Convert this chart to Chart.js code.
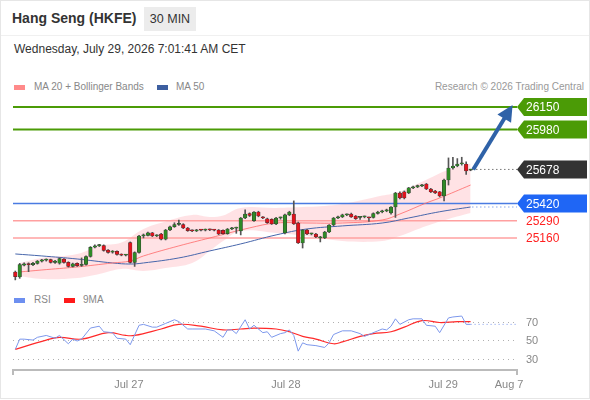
<!DOCTYPE html>
<html>
<head>
<meta charset="utf-8">
<script src="https://cdn.jsdelivr.net/npm/chart.js@4.4.1/dist/chart.umd.min.js"></script>
<style>
  body { margin: 0; background: #fff; font-family: 'Liberation Sans', Arial, sans-serif; }
  #wrap { position: relative; width: 588px; height: 397px; border: 1px solid #e6e6e6; overflow: hidden; }
  #head { position: absolute; left: 0; top: 0; width: 588px; height: 34px; border-bottom: 1px solid #f0f0f0; }
  #title { position: absolute; left: 11px; top: 9px; font-size: 14px; font-weight: bold; color: #333; }
  #tf { position: absolute; left: 143px; top: 6px; width: 52px; height: 24px; line-height: 24px; background: #ececec; text-align: center; font-size: 12.5px; color: #333; }
  #date { position: absolute; left: 13px; top: 41px; font-size: 12px; color: #333; }
  .lg { position: absolute; font-size: 10px; color: #888; }
  .sw { position: absolute; width: 11px; height: 5px; }
  canvas { position: absolute; left: 0; top: 0; }
</style>
</head>
<body>
<div id="wrap">
  <div id="head">
    <div id="title">Hang Seng (HKFE)</div>
    <div id="tf">30 MIN</div>
  </div>
  <div id="date">Wednesday, July 29, 2026 7:01:41 AM CET</div>

  <div class="sw" style="left:13px;top:84px;background:#ff8a8a"></div>
  <div class="lg" style="left:33px;top:80px">MA 20 + Bollinger Bands</div>
  <div class="sw" style="left:156px;top:84px;background:#3d5fa0"></div>
  <div class="lg" style="left:175px;top:80px">MA 50</div>
  <div class="lg" style="right:5px;top:80px;color:#999">Research © 2026 Trading Central</div>

  <div class="sw" style="left:13px;top:297px;background:#6d8ff0"></div>
  <div class="lg" style="left:33px;top:293px">RSI</div>
  <div class="sw" style="left:63px;top:297px;background:#ff1a1a"></div>
  <div class="lg" style="left:82px;top:293px">9MA</div>

  <canvas id="main" width="590" height="400"></canvas>
  <canvas id="rsi" width="590" height="400"></canvas>
</div>
<script>
// 30 min candles
const candleOpen = [
  24903, 24865, 24955, 24966, 24958, 24968, 24985, 24992, 24996, 24976,
  24970, 25000, 24975, 24945, 24968, 24952, 24960, 25020, 25090, 25100,
  25102, 25068, 25052, 25058, 25035, 25030, 25125, 24975, 25050, 25175,
  25180, 25198, 25175, 25190, 25150, 25220, 25245, 25262, 25262, 25235,
  25215, 25213, 25220, 25218, 25222, 25220, 25220, 25218, 25192, 25228,
  25234, 25213, 25311, 25345, 25290, 25356, 25318, 25304, 25300, 25266,
  25311, 25198, 25334, 25341, 25273, 25122, 25220, 25190, 25190, 25160,
  25160, 25205, 25258, 25311, 25319, 25334, 25341, 25326, 25315, 25319,
  25315, 25315, 25345, 25356, 25364, 25349, 25394, 25500, 25508, 25500,
  25538, 25546, 25553, 25568, 25530, 25515, 25508, 25477, 25598, 25689,
  25704, 25719, 25719, 25672
];
const candleHigh = [
  24910, 24968, 24972, 24972, 24975, 24990, 24998, 25002, 25000, 24990,
  25010, 25005, 24980, 24970, 24972, 25009, 25025, 25095, 25108, 25112,
  25108, 25072, 25065, 25062, 25040, 25036, 25130, 25055, 25180, 25190,
  25205, 25202, 25185, 25195, 25225, 25250, 25275, 25296, 25268, 25240,
  25222, 25225, 25226, 25228, 25228, 25225, 25224, 25222, 25232, 25240,
  25242, 25315, 25372, 25350, 25360, 25362, 25322, 25310, 25305, 25315,
  25318, 25340, 25362, 25440, 25280, 25225, 25225, 25196, 25195, 25172,
  25210, 25262, 25315, 25326, 25340, 25342, 25348, 25330, 25324, 25326,
  25318, 25350, 25362, 25370, 25378, 25398, 25505, 25508, 25515, 25542,
  25552, 25560, 25566, 25572, 25535, 25520, 25512, 25605, 25765, 25770,
  25760, 25770, 25735, 25680
];
const candleLow = [
  24843, 24855, 24948, 24905, 24950, 24962, 24978, 24985, 24970, 24968,
  24962, 24970, 24940, 24940, 24945, 24945, 24955, 25015, 25085, 25095,
  25060, 25045, 25045, 25030, 25025, 25024, 24970, 24945, 25045, 25160,
  25175, 25170, 25170, 25145, 25145, 25215, 25240, 25255, 25230, 25210,
  25208, 25208, 25213, 25213, 25215, 25213, 25185, 25188, 25188, 25222,
  25195, 25183, 25305, 25322, 25285, 25320, 25305, 25270, 25262, 25260,
  25302, 25190, 25328, 25262, 25118, 25084, 25185, 25183, 25162, 25130,
  25155, 25200, 25252, 25305, 25314, 25328, 25315, 25300, 25300, 25312,
  25285, 25310, 25340, 25350, 25358, 25340, 25315, 25455, 25455, 25495,
  25532, 25540, 25548, 25525, 25503, 25495, 25470, 25440, 25560, 25680,
  25698, 25710, 25640, 25668
];
const candleClose = [
  24868, 24958, 24965, 24958, 24968, 24985, 24992, 24996, 24976, 24985,
  25005, 24975, 24945, 24965, 24950, 24960, 25020, 25090, 25100, 25105,
  25065, 25050, 25060, 25035, 25030, 25032, 24975, 25050, 25175, 25180,
  25198, 25175, 25180, 25150, 25220, 25245, 25262, 25265, 25235, 25215,
  25213, 25220, 25218, 25222, 25220, 25218, 25190, 25192, 25228, 25235,
  25236, 25311, 25341, 25330, 25356, 25326, 25311, 25275, 25266, 25311,
  25311, 25334, 25356, 25266, 25122, 25220, 25190, 25190, 25168, 25165,
  25205, 25258, 25311, 25319, 25334, 25334, 25319, 25305, 25319, 25319,
  25311, 25345, 25356, 25364, 25372, 25394, 25500, 25462, 25462, 25538,
  25546, 25553, 25560, 25530, 25508, 25500, 25477, 25598, 25689, 25704,
  25719, 25719, 25666, 25678
];

// moving averages and bands (candle index, price)
const ma20Idx = [1, 6, 14, 22, 26, 29, 37, 44, 53, 59, 66, 74, 83, 87, 93, 96, 103];
const ma20Val = [24903, 24918, 24941, 24971, 24986, 25024, 25100, 25160, 25236, 25273, 25273, 25273, 25296, 25341, 25425, 25462, 25560];
const ma50Idx = [0, 6, 14, 22, 26, 29, 37, 44, 51, 59, 66, 74, 83, 89, 96, 103];
const ma50Val = [25039, 25024, 25001, 24971, 24963, 24971, 25009, 25062, 25115, 25183, 25228, 25251, 25273, 25311, 25358, 25394];
const bandIdx = [1, 6, 14, 19, 24, 29, 34, 40, 44, 47, 51, 59, 66, 74, 83, 87, 93, 98, 103];
const bandUpper = [24971, 25009, 25039, 25100, 25125, 25228, 25285, 25334, 25318, 25330, 25387, 25387, 25395, 25417, 25480, 25510, 25600, 25675, 25720];
const bandLower = [24873, 24850, 24858, 24888, 24926, 24911, 24933, 24971, 25062, 25137, 25213, 25198, 25175, 25137, 25137, 25175, 25251, 25304, 25349];

// key levels
const resistance = [26150, 25980];
const pivot = 25420;
const supports = [25290, 25160];
const lastPrice = 25678;
const arrowTarget = 26165;

// RSI panel
const rsiIdx = [0, 1, 2, 4, 5, 7, 9, 10, 12, 13, 14, 15, 17, 19, 20, 22, 23, 25, 26, 28,
  29, 31, 32, 34, 36, 37, 39, 40, 43, 45, 47, 48, 49, 50, 52, 53, 54, 56, 57, 58,
  60, 61, 62, 63, 64, 65, 66, 68, 70, 71, 72, 74, 76, 78, 79, 80, 82, 83, 84, 85,
  86, 87, 89, 90, 92, 93, 95, 96, 98, 99, 101, 102, 103];
const rsiVal = [41, 52, 52, 51, 54, 56, 53, 56, 47, 52, 50, 52, 64, 66, 60, 59, 53, 52, 46, 67,
  68, 65, 65, 69, 73, 71, 63, 63, 63, 61, 54, 62, 62, 58, 73, 63, 67, 59, 60, 54,
  58, 59, 62, 56, 39, 48, 46, 45, 43, 48, 57, 61, 61, 58, 55, 57, 61, 63, 62, 66,
  74, 68, 73, 74, 74, 67, 66, 59, 75, 76, 77, 68, 68];
const rsiMaIdx = [0, 7, 10, 15, 21, 25, 27, 33, 37, 42, 47, 51, 54, 59, 62, 65, 68, 72, 74, 78, 81, 85, 88, 92, 96, 100, 103];
const rsiMaVal = [41, 51, 54, 52, 59, 56, 56, 63, 68, 66, 62, 63, 64, 63, 60, 55, 52, 47, 49, 55, 58, 60, 65, 72, 70, 71, 71];
const rsiLevels = [30, 50, 70];

const xTickPos = [25.7, 61.2, 96.8, 111.7];
const xTickLabels = ['Jul 27', 'Jul 28', 'Jul 29', 'Aug 7'];

// ------------------------------------------------------------
Chart.defaults.font.family = "'Liberation Sans', Arial, sans-serif";
Chart.defaults.animation = false;

const X_MIN = -0.52, X_MAX = 113.5;
const last = candleClose.length - 1;

const pts = (xs, ys) => xs.map((x, i) => ({ x: x, y: ys[i] }));
const flat = (v, from) => [{ x: from, y: v }, { x: X_MAX, y: v }];

const UP = '#2f8a26', DOWN = '#e3121b';
const bodyColors = candleClose.map((c, i) => c >= candleOpen[i] ? UP : DOWN);

function hline(v, color, width) {
  return { type: 'line', data: flat(v, X_MIN), borderColor: color, borderWidth: width, pointRadius: 0, order: 6 };
}

const tagPlugin = {
  id: 'tags',
  afterDatasetsDraw(chart) {
    const ctx = chart.ctx, y = chart.scales.y, x = chart.scales.x;
    const right = chart.chartArea.right;

    // arrow from last close towards the first target
    const x0 = x.getPixelForValue(last + 0.6), y0 = y.getPixelForValue(lastPrice);
    const x1 = x.getPixelForValue(X_MAX - 1), y1 = y.getPixelForValue(arrowTarget);
    const ang = Math.atan2(y1 - y0, x1 - x0);
    ctx.save();
    ctx.strokeStyle = '#2f62a8';
    ctx.fillStyle = '#2f62a8';
    ctx.lineWidth = 4;
    ctx.beginPath();
    ctx.moveTo(x0, y0);
    ctx.lineTo(x1 - 12 * Math.cos(ang), y1 - 12 * Math.sin(ang));
    ctx.stroke();
    ctx.beginPath();
    ctx.moveTo(x1, y1);
    ctx.lineTo(x1 - 16 * Math.cos(ang) + 8 * Math.sin(ang), y1 - 16 * Math.sin(ang) - 8 * Math.cos(ang));
    ctx.lineTo(x1 - 16 * Math.cos(ang) - 8 * Math.sin(ang), y1 - 16 * Math.sin(ang) + 8 * Math.cos(ang));
    ctx.closePath();
    ctx.fill();

    const tag = (v, color) => {
      const py = y.getPixelForValue(v);
      ctx.fillStyle = color;
      ctx.beginPath();
      ctx.moveTo(right, py);
      ctx.lineTo(right + 7, py - 9);
      ctx.lineTo(right + 70, py - 9);
      ctx.lineTo(right + 70, py + 9);
      ctx.lineTo(right + 7, py + 9);
      ctx.closePath();
      ctx.fill();
      ctx.fillStyle = '#fff';
      ctx.font = "12px 'Liberation Sans', Arial, sans-serif";
      ctx.textBaseline = 'middle';
      ctx.fillText(String(v), right + 9, py + 1);
    };
    resistance.forEach(v => tag(v, '#4b9b06'));
    tag(lastPrice, '#333333');
    tag(pivot, '#1f66f5');
    ctx.fillStyle = '#ff2020';
    ctx.font = "12px 'Liberation Sans', Arial, sans-serif";
    ctx.textBaseline = 'middle';
    supports.forEach(v => ctx.fillText(String(v), right + 9, y.getPixelForValue(v) + 1));
    ctx.restore();
  }
};

new Chart(document.getElementById('main'), {
  type: 'bar',
  data: {
    datasets: [
      { type: 'line', data: pts(bandIdx, bandUpper), borderWidth: 0, pointRadius: 0, tension: 0.4, fill: false, order: 10 },
      { type: 'line', data: pts(bandIdx, bandLower), borderWidth: 0, pointRadius: 0, tension: 0.4,
        fill: '-1', backgroundColor: 'rgba(255,180,186,0.38)', order: 10 },
      { type: 'line', data: pts(ma20Idx, ma20Val), borderColor: 'rgba(255,105,105,0.8)', borderWidth: 1, pointRadius: 0, tension: 0.4, order: 5 },
      { type: 'line', data: pts(ma50Idx, ma50Val), borderColor: '#4766ab', borderWidth: 1, pointRadius: 0, tension: 0.4, order: 5 },
      hline(resistance[0], '#4b9b06', 2),
      hline(resistance[1], '#4b9b06', 2),
      hline(pivot, '#4a7be2', 1.5),
      hline(supports[0], '#ffa0a0', 1.5),
      hline(supports[1], '#ffa0a0', 1.5),
      { type: 'line', data: flat(lastPrice, last + 0.4), borderColor: '#333', borderWidth: 1, borderDash: [1, 3], pointRadius: 0, order: 6 },
      { type: 'line', data: flat(ma50Val[ma50Val.length - 1], last + 0.4), borderColor: '#4a7be2', borderWidth: 1, borderDash: [1, 3], pointRadius: 0, order: 6 },
      { type: 'bar', data: candleLow.map((l, i) => ({ x: i, y: [l, candleHigh[i]] })),
        backgroundColor: '#555', barThickness: 1, grouped: false, order: 2 },
      { type: 'bar', data: candleOpen.map((o, i) => ({ x: i, y: [o, candleClose[i]] })),
        backgroundColor: bodyColors, borderColor: '#333', borderWidth: 0.5, borderSkipped: false,
        barThickness: 3.5, minBarLength: 1.2, grouped: false, order: 1 }
    ]
  },
  options: {
    responsive: false,
    devicePixelRatio: 1,
    layout: { padding: { left: 12, right: 74, top: 95, bottom: 117 } },
    plugins: { legend: { display: false }, tooltip: { enabled: false } },
    scales: {
      x: { type: 'linear', display: false, min: X_MIN, max: X_MAX, offset: false },
      y: { type: 'linear', display: false, min: 24812, max: 26233 }
    }
  },
  plugins: [tagPlugin]
});

const stubPlugin = {
  id: 'stubs',
  afterDraw(chart) {
    const ctx = chart.ctx, a = chart.chartArea;
    ctx.save();
    ctx.strokeStyle = '#bbb';
    ctx.lineWidth = 2;
    ctx.beginPath();
    ctx.moveTo(a.left, a.bottom); ctx.lineTo(a.left, a.bottom + 5);
    ctx.moveTo(a.right, a.bottom); ctx.lineTo(a.right, a.bottom + 5);
    ctx.stroke();
    ctx.restore();
  }
};

new Chart(document.getElementById('rsi'), {
  type: 'line',
  data: {
    datasets: [
      { data: pts(rsiIdx, rsiVal), borderColor: '#7d98ec', borderWidth: 1, pointRadius: 0, tension: 0 },
      { data: pts(rsiMaIdx, rsiMaVal), borderColor: '#ff2a2a', borderWidth: 1.2, pointRadius: 0, tension: 0.4 },
      { data: flat(rsiVal[rsiVal.length - 1], last), borderColor: '#7d98ec', borderWidth: 1, borderDash: [1, 3], pointRadius: 0 }
    ]
  },
  options: {
    responsive: false,
    devicePixelRatio: 1,
    layout: { padding: { left: 12, right: 0, top: 306, bottom: 0 } },
    plugins: { legend: { display: false }, tooltip: { enabled: false } },
    scales: {
      x: {
        type: 'linear', min: X_MIN, max: X_MAX, position: 'bottom',
        grid: { display: false, drawTicks: false },
        border: { display: true, color: '#bbb', width: 2 },
        afterBuildTicks: s => { s.ticks = xTickPos.map(v => ({ value: v })); },
        afterFit: s => { s.height = 31; },
        ticks: {
          autoSkip: false, maxRotation: 0, padding: 8, color: '#888', font: { size: 11 },
          callback: v => xTickLabels[xTickPos.indexOf(v)]
        }
      },
      y: {
        type: 'linear', position: 'right', min: 18.6, max: 86.8,
        afterBuildTicks: s => { s.ticks = rsiLevels.map(v => ({ value: v })); },
        afterFit: s => { s.width = 74; },
        grid: { color: '#b0b0b0', drawTicks: false },
        border: { display: false, dash: [1, 4] },
        ticks: { padding: 9, color: '#888', font: { size: 11 } }
      }
    }
  },
  plugins: [stubPlugin]
});
</script>
</body>
</html>
